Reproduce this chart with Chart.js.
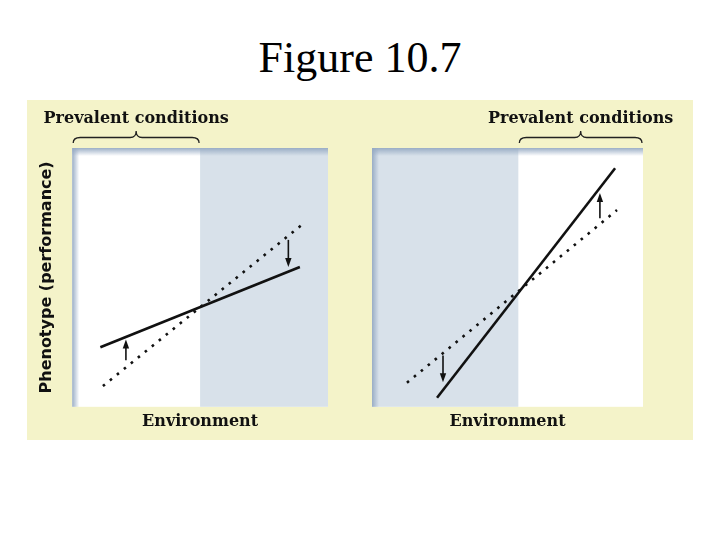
<!DOCTYPE html>
<html>
<head>
<meta charset="utf-8">
<title>Figure 10.7</title>
<script src="https://cdn.jsdelivr.net/npm/chart.js@4.4.1/dist/chart.umd.min.js"></script>
<style>
  html, body { margin: 0; padding: 0; background: #ffffff; }
  #page { position: relative; width: 720px; height: 540px; overflow: hidden; }
  #title {
    position: absolute; left: 0; top: 36px; width: 720px;
    text-align: center; font-family: "Liberation Serif", serif;
    font-size: 44px; line-height: 44px; color: #000;
  }
  #panelBox {
    position: absolute; left: 27px; top: 100px; width: 666px; height: 340px;
    background: #f4f3c9;
  }
  canvas { position: absolute; top: 100px; }
  #leftChart { left: 27px; }
  #rightChart { left: 365px; }
</style>
</head>
<body>
<div id="page">
  <div id="title">Figure 10.7</div>
  <div id="panelBox"></div>
  <canvas id="leftChart" width="338" height="340"></canvas>
  <canvas id="rightChart" width="328" height="340"></canvas>
</div>
<script>
// environment / phenotype are on an arbitrary 0..10 scale in both panels
const envRange = [0, 10];
const phenoRange = [0, 10];

const xTitle = 'Environment';
const yTitle = 'Phenotype (performance)';
const prevalentLabel = 'Prevalent conditions';

// left panel: plastic reaction norm is flatter than the original one
const leftPrevalent = [0, 5];
const leftShade = [5, 10];
const leftSolidX = [1.1, 8.9];
const leftSolidY = [2.3, 5.4];
const leftDottedX = [1.2, 9.0];
const leftDottedY = [0.8, 7.05];
const leftArrowX = [2.1, 8.45];
const leftArrowFrom = [1.8, 6.45];
const leftArrowTo = [2.6, 5.4];

// right panel: reaction norm gets steeper
const rightPrevalent = [5.4, 10];
const rightShade = [0, 5.4];
const rightSolidX = [2.4, 8.97];
const rightSolidY = [0.35, 9.22];
const rightDottedX = [1.29, 9.04];
const rightDottedY = [0.93, 7.6];
const rightArrowX = [2.62, 8.41];
const rightArrowFrom = [1.98, 7.29];
const rightArrowTo = [0.95, 8.26];

const SHADE = '#d8e1ea';
const EDGE = 'rgba(150,170,195,0.95)';

function toPoints(xs, ys) {
  return xs.map((x, i) => ({ x: x, y: ys[i] }));
}

// background of the plot area: white, blue-grey shade, soft edge at top and left
const panelPlugin = {
  id: 'panel',
  beforeDatasetsDraw(chart, args, opts) {
    const { ctx, chartArea: a, scales } = chart;
    const sx = scales.x;
    ctx.save();
    ctx.fillStyle = '#ffffff';
    ctx.fillRect(a.left, a.top, a.right - a.left, a.bottom - a.top);
    const s0 = sx.getPixelForValue(opts.shade[0]);
    const s1 = sx.getPixelForValue(opts.shade[1]);
    ctx.fillStyle = SHADE;
    ctx.fillRect(s0, a.top, s1 - s0, a.bottom - a.top);

    let g = ctx.createLinearGradient(0, a.top, 0, a.top + 8);
    g.addColorStop(0, EDGE);
    g.addColorStop(1, 'rgba(150,170,195,0)');
    ctx.fillStyle = g;
    ctx.fillRect(a.left, a.top, a.right - a.left, 8);

    g = ctx.createLinearGradient(a.left, 0, a.left + 7, 0);
    g.addColorStop(0, EDGE);
    g.addColorStop(1, 'rgba(150,170,195,0)');
    ctx.fillStyle = g;
    ctx.fillRect(a.left, a.top, 7, a.bottom - a.top);
    ctx.restore();
  },
  afterDatasetsDraw(chart, args, opts) {
    const { ctx, chartArea: a, scales } = chart;
    const sx = scales.x, sy = scales.y;
    ctx.save();
    ctx.strokeStyle = '#111';
    ctx.fillStyle = '#111';
    ctx.lineWidth = 1.6;
    opts.arrowX.forEach((xv, i) => {
      const x = sx.getPixelForValue(xv);
      const y0 = sy.getPixelForValue(opts.arrowFrom[i]);
      const y1 = sy.getPixelForValue(opts.arrowTo[i]);
      const dir = y1 < y0 ? 1 : -1;
      const headLen = 9, headW = 3.2;
      ctx.beginPath();
      ctx.moveTo(x, y0);
      ctx.lineTo(x, y1 + dir * headLen * 0.6);
      ctx.stroke();
      ctx.beginPath();
      ctx.moveTo(x, y1);
      ctx.lineTo(x - headW, y1 + dir * headLen);
      ctx.lineTo(x + headW, y1 + dir * headLen);
      ctx.closePath();
      ctx.fill();
    });

    // curly brace and label over the prevalent range
    const x0 = sx.getPixelForValue(opts.prevalent[0]);
    const x1 = sx.getPixelForValue(opts.prevalent[1]);
    const mid = (x0 + x1) / 2;
    const yb = a.top - 5, yh = a.top - 10.5, yc = a.top - 17;
    ctx.lineWidth = 1.3;
    ctx.strokeStyle = '#222';
    ctx.beginPath();
    ctx.moveTo(x0 + 1, yb);
    ctx.quadraticCurveTo(x0 + 1, yh, x0 + 8, yh);
    ctx.lineTo(mid - 6, yh);
    ctx.quadraticCurveTo(mid, yh, mid, yc);
    ctx.quadraticCurveTo(mid, yh, mid + 6, yh);
    ctx.lineTo(x1 - 8, yh);
    ctx.quadraticCurveTo(x1 - 1, yh, x1 - 1, yb);
    ctx.stroke();

    ctx.fillStyle = '#111';
    ctx.font = 'bold 16px "DejaVu Serif", serif';
    ctx.textAlign = 'center';
    ctx.textBaseline = 'alphabetic';
    ctx.fillText(prevalentLabel, mid, a.top - 25);
    ctx.restore();
  }
};

function makeChart(id, cfg) {
  const canvas = document.getElementById(id);
  return new Chart(canvas.getContext('2d'), {
    type: 'scatter',
    data: {
      datasets: [
        {
          label: 'Original reaction norm',
          data: toPoints(cfg.dottedX, cfg.dottedY),
          showLine: true,
          borderColor: '#111',
          borderWidth: 2.6,
          borderDash: [2.6, 6.4],
          pointRadius: 0
        },
        {
          label: 'Evolved reaction norm',
          data: toPoints(cfg.solidX, cfg.solidY),
          showLine: true,
          borderColor: '#111',
          borderWidth: 2.6,
          pointRadius: 0
        }
      ]
    },
    options: {
      responsive: false,
      animation: false,
      devicePixelRatio: 1,
      layout: { padding: cfg.padding },
      plugins: {
        legend: { display: false },
        tooltip: { enabled: false },
        panel: {
          shade: cfg.shade,
          prevalent: cfg.prevalent,
          arrowX: cfg.arrowX,
          arrowFrom: cfg.arrowFrom,
          arrowTo: cfg.arrowTo
        }
      },
      scales: {
        x: {
          type: 'linear',
          min: envRange[0],
          max: envRange[1],
          ticks: { display: false },
          grid: { display: false, drawTicks: false },
          border: { display: false },
          title: {
            display: true,
            text: xTitle,
            color: '#111',
            font: { family: '"DejaVu Serif", serif', size: 16, weight: 'bold' },
            padding: { top: 5, bottom: 9 }
          }
        },
        y: {
          display: cfg.showY,
          min: phenoRange[0],
          max: phenoRange[1],
          ticks: { display: false },
          grid: { display: false, drawTicks: false },
          border: { display: false },
          title: {
            display: true,
            text: yTitle,
            color: '#111',
            font: { family: '"DejaVu Sans", sans-serif', size: 16, weight: 'bold' },
            padding: { top: 5, bottom: 16 }
          }
        }
      }
    },
    plugins: [panelPlugin]
  });
}

makeChart('leftChart', {
  showY: true,
  padding: { left: 5, right: 37, top: 48, bottom: 0 },
  shade: leftShade, prevalent: leftPrevalent,
  solidX: leftSolidX, solidY: leftSolidY,
  dottedX: leftDottedX, dottedY: leftDottedY,
  arrowX: leftArrowX, arrowFrom: leftArrowFrom, arrowTo: leftArrowTo
});

makeChart('rightChart', {
  showY: false,
  padding: { left: 7, right: 50, top: 48, bottom: 0 },
  shade: rightShade, prevalent: rightPrevalent,
  solidX: rightSolidX, solidY: rightSolidY,
  dottedX: rightDottedX, dottedY: rightDottedY,
  arrowX: rightArrowX, arrowFrom: rightArrowFrom, arrowTo: rightArrowTo
});
</script>
</body>
</html>
